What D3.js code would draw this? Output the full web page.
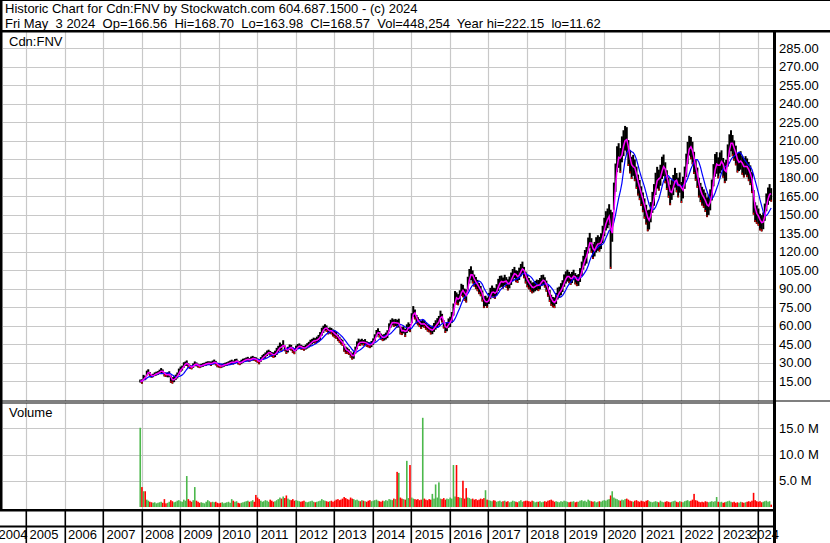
<!DOCTYPE html>
<html><head><meta charset="utf-8">
<script src="https://cdn.jsdelivr.net/npm/d3@7"></script>
<style>
html,body{margin:0;padding:0;background:#fff;}
svg{display:block;font-family:"Liberation Sans",Arial,sans-serif;}
text{white-space:pre;}
</style></head><body>
<svg id="c" width="830" height="543"></svg>
<script>
// ---------- texts / ticks ----------
const titleLine1 = "Historic Chart for Cdn:FNV by Stockwatch.com 604.687.1500 - (c) 2024";
const titleLine2 = "Fri May  3 2024  Op=166.56  Hi=168.70  Lo=163.98  Cl=168.57  Vol=448,254  Year hi=222.15  lo=11.62";
const symbolLabel = "Cdn:FNV";
const volumeLabel = "Volume";
const yearLabels = [2004,2005,2006,2007,2008,2009,2010,2011,2012,2013,2014,2015,2016,2017,2018,2019,2020,2021,2022,2023,2024];
const priceTicks = [15,30,45,60,75,90,105,120,135,150,165,180,195,210,225,240,255,270,285];
const volumeTicks = [5,10,15];

// ---------- data: half-month periods starting Dec 2007 (2nd half) ----------
const firstPeriod = {year: 2007, month: 11, half: 1};
// typical (mid) price per half month
const mid = [
15.0,
14.6,18.0,17.5,21.5,22.5,20.5,19.0,19.5,20.5,21.0,21.5,22.5,23.5,22.5,20.5,20.0,20.0,20.5,16.5,15.5,16.5,18.0,19.5,22.5,
24.5,25.5,28.0,29.0,29.5,27.5,26.5,26.0,27.5,29.0,28.5,27.5,27.0,27.5,28.0,28.5,29.0,29.5,29.5,29.0,30.0,30.5,29.5,28.0,
27.5,27.0,27.5,28.0,28.5,28.8,29.5,30.0,30.5,30.0,31.0,31.5,30.0,29.5,30.5,31.5,32.0,32.5,32.8,32.0,33.0,33.5,33.0,32.5,
31.5,30.5,32.5,34.0,35.0,36.0,37.5,38.5,37.5,36.5,36.0,37.0,39.0,41.0,43.0,42.0,45.5,41.5,39.5,40.5,42.5,42.0,40.0,39.0,
41.5,43.0,43.5,42.5,42.0,41.5,42.5,43.5,44.5,46.0,47.0,48.0,47.5,48.5,49.5,51.5,55.0,57.0,58.5,57.5,55.5,56.0,55.5,54.0,
53.0,52.0,50.0,48.5,47.0,46.0,42.0,40.0,39.5,38.5,36.5,35.0,36.0,40.0,44.0,46.5,46.0,47.0,46.0,46.5,45.0,44.5,44.0,45.0,
47.0,50.0,53.5,55.0,53.0,51.0,50.0,50.5,51.5,53.0,58.5,61.5,63.0,62.0,62.5,61.5,62.0,56.0,55.5,56.5,54.0,57.5,59.0,58.0,
66.0,71.5,69.0,65.0,63.5,62.0,60.5,62.0,61.0,59.5,58.0,57.5,56.0,56.5,58.5,60.5,62.0,64.0,68.5,66.0,61.0,57.5,59.0,62.0,
63.0,66.5,73.0,83.0,82.0,81.0,84.0,89.0,88.0,85.0,84.0,94.0,100.0,102.5,99.5,96.5,94.5,92.5,90.0,88.0,84.0,79.0,80.0,78.5,
82.0,86.0,88.0,86.5,86.0,89.0,93.0,95.5,96.0,94.5,97.0,95.0,93.0,95.0,98.0,101.0,103.0,100.0,99.5,102.0,105.0,107.0,103.0,99.0,
96.0,94.0,92.0,90.5,91.0,92.0,93.0,92.5,94.0,96.5,97.0,95.0,92.0,88.0,84.0,80.5,79.0,78.5,82.0,86.0,87.0,89.5,92.0,96.5,
99.0,100.5,99.0,97.5,99.0,101.0,98.0,96.5,97.0,101.0,106.0,111.0,115.0,117.0,125.0,129.0,125.0,120.0,122.0,125.5,127.0,126.0,128.5,134.0,
140.0,145.0,147.0,150.0,130.0,140.0,165.0,180.0,195.0,198.0,194.0,203.0,208.0,212.0,210.0,200.0,193.0,188.0,190.0,186.0,180.0,174.0,170.0,165.0,
160.0,155.0,150.0,145.0,146.0,152.0,160.0,166.0,175.0,180.0,178.0,182.0,188.0,190.0,184.0,178.0,172.0,166.0,170.0,174.0,180.0,176.0,172.0,176.0,
168.0,172.0,180.0,190.0,200.0,206.0,204.0,200.0,192.0,186.0,180.0,172.0,168.0,165.0,163.0,160.0,156.0,158.0,162.0,170.0,182.0,190.0,192.0,188.0,
192.0,194.0,188.0,184.0,186.0,198.0,206.0,210.0,206.0,202.0,198.0,192.0,193.0,194.0,190.0,188.0,190.0,188.0,185.0,182.0,176.0,160.0,152.0,150.0,
148.0,144.0,143.0,145.0,152.0,160.0,165.0,168.0,166.0
];
// half of the high-low range per half month
const spread = [
1.2,
1.8,2.0,1.8,1.9,2.0,1.8,1.5,1.4,1.5,1.6,1.5,1.7,2.0,1.9,1.8,1.6,2.0,2.4,3.0,2.6,2.4,2.2,2.4,2.6,
2.2,2.0,2.2,1.8,2.2,1.9,1.6,1.5,1.8,1.9,1.6,1.5,1.5,1.4,1.5,1.4,1.6,1.5,1.5,1.8,1.6,1.9,1.8,1.8,
1.6,1.5,1.5,1.4,1.4,1.5,1.5,1.6,1.8,1.6,1.8,1.6,1.5,1.6,1.8,1.6,1.5,1.6,1.8,1.6,1.8,1.9,1.6,1.8,
1.8,1.9,1.9,2.0,2.0,2.2,2.2,1.9,1.9,2.0,2.3,2.6,2.9,2.6,3.2,2.9,2.6,2.3,2.5,2.3,2.2,2.3,2.3,2.2,
2.2,2.0,2.0,1.9,1.8,1.9,2.0,2.2,2.3,2.5,2.2,2.2,2.3,2.5,2.9,3.2,3.2,2.9,2.6,2.6,2.6,2.5,2.6,2.8,
2.9,2.8,2.6,2.5,2.3,2.5,3.2,2.9,2.6,2.3,2.5,2.6,2.9,2.9,3.2,2.9,2.6,2.3,2.3,2.5,2.3,2.2,2.3,2.5,
2.6,2.9,2.9,2.8,2.6,2.5,2.6,2.6,2.8,3.2,3.3,3.2,2.9,3.0,2.9,3.2,3.6,3.2,3.2,2.9,3.3,3.5,3.6,3.3,
4.0,4.3,4.0,3.6,3.3,3.2,3.2,3.0,2.9,2.9,2.9,3.0,3.2,3.5,3.6,3.8,4.0,3.8,3.6,3.5,3.3,3.5,3.6,3.8,
4.2,4.5,4.9,5.0,4.9,4.5,4.6,4.9,5.0,5.0,5.3,5.6,5.9,5.6,5.3,4.9,4.9,4.6,4.5,4.2,4.5,4.8,4.2,4.2,
4.5,4.6,4.5,4.2,4.3,4.6,4.9,4.8,4.6,4.5,4.2,4.3,4.5,4.8,5.0,4.9,4.6,4.8,4.9,5.0,5.0,4.9,4.6,4.8,
4.9,4.6,4.5,4.3,4.2,4.2,4.3,4.5,4.6,4.5,4.3,4.2,4.5,4.6,4.8,4.5,4.2,4.3,4.5,4.8,4.6,4.9,4.8,5.0,
4.9,4.8,4.6,4.5,4.5,4.3,4.6,4.5,4.8,5.6,5.9,5.6,6.3,6.7,6.4,6.2,5.9,6.0,5.9,6.2,6.3,6.0,6.4,7.0,
7.5,7.8,8.0,8.5,24.0,12.0,11.0,11.5,10.5,10.0,10.0,10.5,10.5,10.0,11.0,10.5,9.5,9.0,8.5,8.8,9.0,8.5,8.2,8.0,
8.0,8.2,8.0,8.5,8.0,8.2,8.5,8.8,9.0,8.8,8.5,8.5,9.0,8.8,8.5,8.0,8.2,8.3,8.0,8.2,8.0,7.8,8.0,8.2,
8.5,8.8,9.0,9.5,9.0,8.0,9.0,9.2,9.0,8.5,8.2,8.0,7.8,7.6,7.5,7.8,8.0,8.2,8.5,8.5,9.0,9.2,8.8,8.5,
8.5,8.2,8.0,8.4,8.5,9.0,9.2,8.5,8.6,8.2,8.0,7.8,7.6,7.5,7.6,7.8,7.5,7.6,7.8,8.0,8.5,10.0,8.0,7.5,
7.0,6.8,6.6,6.8,7.0,7.2,7.0,6.8,5.5
];
// peak daily volume (millions) per half month
const volume = [
15.1,
3.8,3.0,3.0,1.4,1.2,1.0,0.9,0.8,0.9,0.7,0.8,0.9,1.0,0.8,1.5,0.7,0.8,1.0,1.3,1.1,0.9,1.0,1.2,1.3,
1.1,1.0,1.4,1.2,5.9,1.5,1.2,1.0,1.3,3.8,1.2,1.0,0.8,0.9,0.8,0.7,1.0,1.3,1.1,0.9,1.0,0.9,1.0,0.8,
0.7,0.8,0.9,0.7,0.8,0.9,1.0,0.8,1.5,1.2,1.0,1.1,0.8,0.7,0.8,0.9,1.0,1.1,1.2,1.0,1.1,1.3,1.0,2.3,
1.8,1.5,1.2,1.0,1.1,1.3,1.2,1.0,1.4,1.2,1.0,1.1,1.3,1.5,1.8,1.6,2.0,1.7,2.2,1.6,1.4,1.3,1.5,1.2,
1.3,1.2,1.1,1.0,1.1,1.2,1.0,0.9,1.0,1.1,1.2,1.0,0.9,1.0,1.1,1.2,1.5,1.3,1.2,1.1,1.0,1.1,1.2,1.0,
1.2,1.4,1.5,1.3,1.4,1.6,1.9,1.7,1.5,1.4,1.8,1.6,1.5,1.3,1.4,1.2,1.1,1.3,1.2,1.1,1.0,1.2,1.3,1.1,
1.2,1.3,1.4,1.2,1.1,1.0,1.2,1.1,1.3,1.2,1.5,1.4,1.3,1.6,1.5,6.7,6.5,1.8,1.6,1.5,1.4,8.8,1.7,8.0,
1.8,1.6,1.5,1.4,1.5,1.3,1.4,17.0,1.6,1.4,1.3,1.5,1.4,2.5,1.6,4.3,1.8,4.7,1.6,1.5,1.7,1.4,1.6,1.5,
1.8,1.6,8.0,2.0,8.0,1.9,1.8,1.7,5.0,1.6,3.6,1.8,1.7,1.5,1.6,1.4,1.5,1.3,1.4,1.6,1.5,1.7,3.2,1.4,
1.3,1.2,1.1,1.3,1.2,1.0,1.1,1.2,1.0,1.1,1.2,1.0,1.1,0.9,1.0,1.2,1.1,1.0,0.9,1.1,1.3,1.0,1.1,1.2,
1.2,1.1,1.0,1.2,1.1,0.9,1.0,1.0,1.1,0.9,1.0,1.1,1.0,1.2,1.3,1.4,1.2,1.0,1.1,1.0,0.9,1.1,1.0,1.2,
1.1,1.0,0.9,1.0,1.0,1.1,0.9,1.0,1.0,1.2,1.3,1.1,1.2,1.0,1.4,1.2,1.1,1.0,1.1,0.9,1.0,1.1,1.0,1.2,
1.3,1.2,1.4,1.5,2.2,3.0,1.8,1.6,1.5,1.3,1.2,1.4,1.3,1.5,1.6,1.4,1.2,1.1,1.0,1.2,1.3,1.1,1.0,1.2,
1.1,1.0,1.2,1.3,1.1,1.0,0.9,1.0,1.1,1.0,0.9,1.2,1.0,0.9,1.0,1.1,1.0,0.9,1.0,1.1,1.2,1.0,0.9,1.1,
1.0,0.9,1.1,1.2,1.3,1.1,1.2,1.4,2.5,1.3,1.2,1.0,0.9,1.0,0.9,1.1,1.0,0.9,1.0,1.1,1.0,1.1,1.9,1.0,
0.9,1.0,0.8,0.9,1.0,1.1,1.2,1.0,0.9,1.0,0.8,0.9,0.8,1.0,0.9,0.8,0.9,1.0,1.1,1.0,1.2,2.7,1.3,1.1,
1.0,1.1,0.9,1.0,1.1,1.2,1.0,1.1,0.45
];
const fastMA = 2, slowMA = 8;

// ---------- build records ----------
const k0 = (firstPeriod.year * 12 + firstPeriod.month) * 2 + firstPeriod.half;
const rows = mid.map((m, i) => {
  const k = k0 + i, yr = Math.floor(k / 24), rem = k % 24;
  return {date: new Date(yr, Math.floor(rem / 2), rem % 2 ? 20 : 5), mid: m,
          hi: m + spread[i], lo: m - spread[i], vol: volume[i],
          up: i === 0 ? true : m >= mid[i - 1]};
});
function sma(n) {
  return rows.map((r, i) => {
    const s = rows.slice(Math.max(0, i - n + 1), i + 1);
    return {date: r.date, v: d3.mean(s, d => d.mid)};
  });
}

// ---------- layout ----------
const svg = d3.select("#c");
const W = 830, H = 543;
const plotL = 3, plotR = 773;
const priceTop = 32, priceBot = 401;
const volTop = 403, volBot = 509;
const x = d3.scaleTime().domain([new Date(2005,0,1), new Date(2024,0,1)]).range([26, 758]);
const y = d3.scaleLinear().domain([0, 285]).range([399.5, 48.3]);
const yv = d3.scaleLinear().domain([0, 15]).range([507, 428.3]);

svg.append("rect").attr("width", W).attr("height", H).attr("fill", "#fff");

svg.append("clipPath").attr("id","cp").append("rect")
  .attr("x", plotL).attr("y", priceTop).attr("width", plotR-plotL).attr("height", priceBot-priceTop);
svg.append("clipPath").attr("id","cv").append("rect")
  .attr("x", plotL).attr("y", volTop).attr("width", plotR-plotL).attr("height", volBot-volTop);

const gridC = "#c8c8c8";
const yearX = yearLabels.map(yr => x(new Date(yr,0,1)));
const gP = svg.append("g").attr("clip-path","url(#cp)");
const gV = svg.append("g").attr("clip-path","url(#cv)");
yearX.forEach(xx => {
  [[gP, priceTop, priceBot],[gV, volTop, volBot]].forEach(([g,a,b]) => {
    g.append("line").attr("x1", Math.round(xx)+0.5).attr("x2", Math.round(xx)+0.5)
      .attr("y1", a).attr("y2", b).attr("stroke", gridC).attr("stroke-width", 1.2);
  });
});
priceTicks.forEach(t => {
  gP.append("line").attr("x1", plotL).attr("x2", plotR).attr("y1", Math.round(y(t))+0.5).attr("y2", Math.round(y(t))+0.5)
    .attr("stroke", gridC).attr("stroke-width", 1.2);
});
volumeTicks.forEach(t => {
  gV.append("line").attr("x1", plotL).attr("x2", plotR).attr("y1", Math.round(yv(t))+0.5).attr("y2", Math.round(yv(t))+0.5)
    .attr("stroke", gridC).attr("stroke-width", 1.2);
});

// price bars
const bw = 2.0;
gP.selectAll("rect.bar").data(rows).join("rect").attr("class","bar")
  .attr("x", d => x(d.date) - bw/2).attr("width", bw)
  .attr("y", d => y(d.hi)).attr("height", d => Math.max(1, y(d.lo) - y(d.hi)))
  .attr("fill", "#000");
gP.selectAll("rect.dn").data(rows.filter(d => !d.up)).join("rect").attr("class","dn")
  .attr("x", d => x(d.date) - 0.5).attr("width", 1)
  .attr("y", d => y(d.lo) - 2).attr("height", 2)
  .attr("fill", "#ff0000");

const line = d3.line().x(d => x(d.date)).y(d => y(d.v));
gP.append("path").datum(sma(slowMA)).attr("d", line).attr("fill","none").attr("stroke","#0000ff").attr("stroke-width",1.2);
gP.append("path").datum(sma(fastMA)).attr("d", line).attr("fill","none").attr("stroke","#ff00ff").attr("stroke-width",1.5);

// volume bars
gV.selectAll("rect.v").data(rows).join("rect").attr("class","v")
  .attr("x", d => x(d.date) - 0.8).attr("width", 1.6)
  .attr("y", d => yv(d.vol)).attr("height", d => yv(0) - yv(d.vol))
  .attr("fill", d => d.up ? "#4cb84c" : "#ff0000");

// ---------- frame ----------
const blk = (a,b,w,h) => svg.append("rect").attr("x",a).attr("y",b).attr("width",w).attr("height",h).attr("fill","#000");
blk(0, 30, W, 2.5);            // header bottom
blk(0, 0, W, 1);               // top
blk(0, 0, 2.5, 511);           // left
blk(plotR, 32, 3, H-32);       // right border of plot
blk(0, 400.5, W, 1);           // separator line 1
blk(0, 402.5, plotR, 1);       // separator line 2
blk(0, 509, plotR, 2.5);       // bottom of volume
blk(0, 525.5, plotR, 2);       // year row divider
yearX.forEach(xx => { if (xx > 0 && xx < plotR) blk(Math.round(xx)-0.5, 511, 1.6, H-511); });

// ---------- texts ----------
const txt = (s, a, b, opt={}) => svg.append("text").attr("x",a).attr("y",b).attr("font-size", opt.fs || 13)
  .attr("fill","#000").attr("text-anchor", opt.anchor || "start").text(s);
txt(titleLine1, 5, 13);
txt(titleLine2, 5, 27.5);
txt(symbolLabel, 9, 46);
txt(volumeLabel, 9, 417);
priceTicks.forEach(t => txt(t.toFixed(2), 779, y(t) + 4.7));
volumeTicks.forEach(t => txt(t.toFixed(1) + " M", 779, yv(t) + 4.7));
yearLabels.forEach((yr, i) => {
  const lx = Math.max(-1.5, Math.min(yearX[i] + 3.5, 750));
  txt(String(yr), lx, 538.5);
});
</script></body></html>
